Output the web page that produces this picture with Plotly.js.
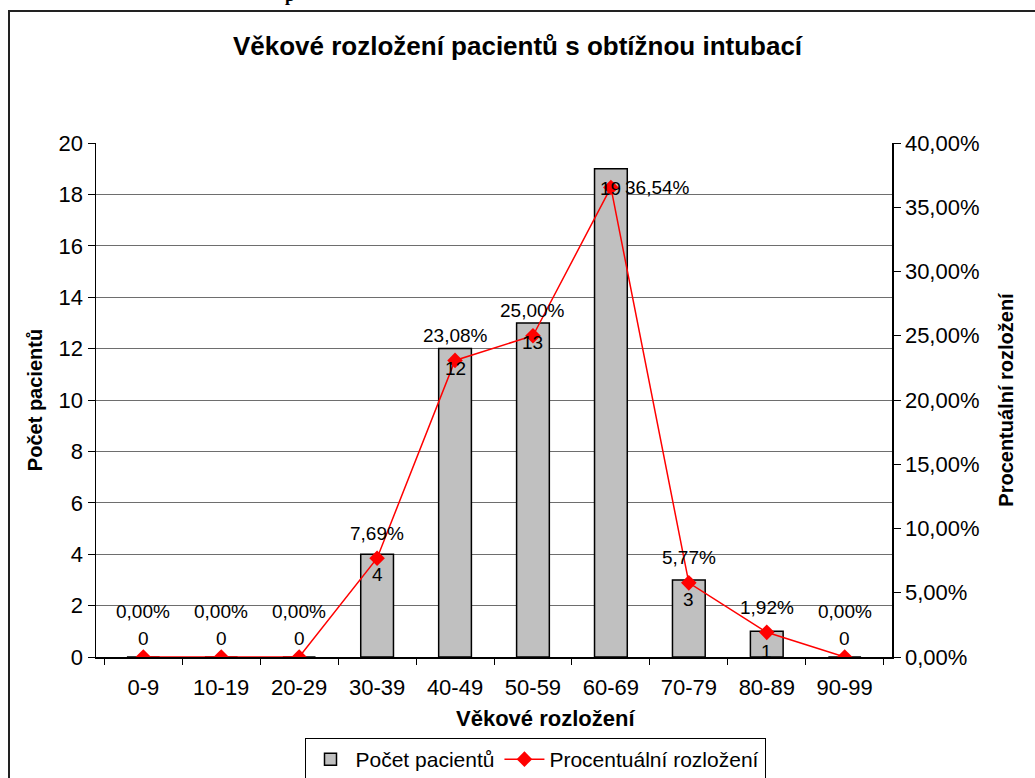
<!DOCTYPE html>
<html>
<head>
<meta charset="utf-8">
<script src="https://cdn.plot.ly/plotly-3.0.1.min.js"></script>
<style>html,body{margin:0;padding:0;background:#fff;}#chart{width:1035px;height:778px;}</style>
</head>
<body>
<div id="chart"></div>
<script>
const categories = ['0-9','10-19','20-29','30-39','40-49','50-59','60-69','70-79','80-89','90-99'];
const patientCounts = [0,0,0,4,12,13,19,3,1,0];
const percentShares = [0,0,0,0.0769,0.2308,0.25,0.3654,0.0577,0.0192,0];
const countTicks = [0,2,4,6,8,10,12,14,16,18,20];
const percentTicks = [0,0.05,0.10,0.15,0.20,0.25,0.30,0.35,0.40];

const FONT = '"Liberation Sans", Arial, sans-serif';
const fmtPct = v => (v*100).toFixed(2).replace('.', ',') + '%';

const bars = {
  type: 'bar', name: 'Počet pacientů', x: categories, y: patientCounts,
  marker: {color: '#c0c0c0', line: {color: '#000', width: 1.5}},
  hoverinfo: 'x+y'
};
const line = {
  type: 'scatter', mode: 'lines+markers', name: 'Procentuální rozložení',
  x: categories, y: percentShares, yaxis: 'y2',
  line: {color: '#ff0000', width: 1.5},
  marker: {symbol: 'diamond', size: 12, color: '#ff0000'}
};

const annotations = [];
const maxPct = Math.max(...percentShares);
categories.forEach((c, i) => {
  const n = patientCounts[i];
  annotations.push({
    x: c, y: n, xref: 'x', yref: 'y', text: String(n), showarrow: false,
    yshift: n === 0 ? 19 : -20, font: {size: 19, color: '#000'}
  });
  const p = percentShares[i];
  const isMax = p === maxPct;
  annotations.push({
    x: c, y: p, xref: 'x', yref: 'y2', text: fmtPct(p), showarrow: false,
    xshift: isMax ? 47 : 0, yshift: isMax ? 0 : (p === 0 ? 46 : 25),
    font: {size: 19, color: '#000'}
  });
});
annotations.push({
  xref: 'paper', yref: 'paper', x: (290-96)/796, y: (657+5)/514, xanchor: 'center', yanchor: 'middle',
  text: '<b>p</b>', showarrow: false, font: {family: '"Liberation Serif", serif', size: 18, color: '#000'}
});
annotations.push({
  xref: 'paper', yref: 'paper', x: (545-96)/796, y: (657-718)/514, xanchor: 'center', yanchor: 'middle',
  text: '<b>Věkové rozložení</b>', showarrow: false, font: {size: 22, color: '#000'}
});

const layout = {
  width: 1035, height: 778,
  margin: {l: 96, r: 143, t: 143, b: 121, autoexpand: false},
  paper_bgcolor: '#fff', plot_bgcolor: '#fff',
  separators: ', ',
  font: {family: FONT, size: 22, color: '#000'},
  title: {text: '<b>Věkové rozložení pacientů s obtížnou intubací</b>', x: 0.5, xref: 'container', xanchor: 'center',
          y: 1 - 46/778, yref: 'container', yanchor: 'middle', font: {size: 26, color: '#000'}},
  bargap: 0.58,
  showlegend: true,
  legend: {orientation: 'h', x: 535/1035, xref: 'container', xanchor: 'center', y: 1 - 738/778, yref: 'container', yanchor: 'top',
           bordercolor: '#000', borderwidth: 1, font: {size: 21}, bgcolor: '#fff', itemwidth: 40},
  xaxis: {type: 'category', automargin: false, showline: true, linecolor: '#000', linewidth: 1.5,
          ticks: 'outside', tickson: 'boundaries', ticklen: 6, tickcolor: '#000', ticklabelstandoff: 10,
          showgrid: false, zeroline: false},
  yaxis: {range: [0, 20], automargin: false, tickvals: countTicks, showline: true, linecolor: '#000', linewidth: 1.5,
          ticks: 'outside', ticklen: 7, tickcolor: '#000', showgrid: true, gridcolor: '#6e6e6e', gridwidth: 1,
          zeroline: false, fixedrange: true,
          title: {text: '<b>Počet pacientů</b>', font: {size: 20}, standoff: 10}},
  yaxis2: {overlaying: 'y', side: 'right', automargin: false, range: [0, 0.4], tickvals: percentTicks, tickformat: '.2%',
           showline: true, linecolor: '#000', linewidth: 1.5, ticks: 'outside', ticklen: 7, tickcolor: '#000',
           showgrid: false, zeroline: false,
           title: {text: '<b>Procentuální rozložení</b>', font: {size: 20}, standoff: 20}},
  shapes: [{type: 'rect', xref: 'paper', yref: 'paper', x0: (9-96)/796, x1: (1045-96)/796,
            y0: (657-800)/514, y1: (657-11)/514, line: {color: '#222', width: 2}, layer: 'below'}],
  annotations: annotations
};

Plotly.newPlot('chart', [bars, line], layout, {displayModeBar: false, staticPlot: true});
</script>
</body>
</html>
